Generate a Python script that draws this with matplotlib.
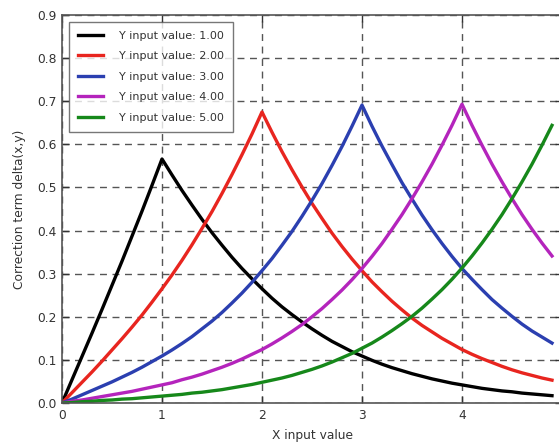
#!/usr/bin/env python3
import numpy as np
import matplotlib
matplotlib.use("Agg")
import matplotlib.pyplot as plt

#####################################################################################################
# data (x step 0.1 from 0 to 4.9)

x_values = [round(0.1 * i, 1) for i in range(50)]

y_inputs = [1.00, 2.00, 3.00, 4.00, 5.00]

delta_y1 = [0.000, 0.054, 0.108, 0.162, 0.217, 0.273, 0.329, 0.387, 0.445, 0.505,
            0.566, 0.529, 0.493, 0.459, 0.426, 0.395, 0.366, 0.338, 0.312, 0.288,
            0.265, 0.243, 0.223, 0.205, 0.188, 0.172, 0.157, 0.143, 0.131, 0.119,
            0.109, 0.099, 0.090, 0.082, 0.075, 0.068, 0.062, 0.056, 0.051, 0.046,
            0.042, 0.038, 0.034, 0.031, 0.028, 0.026, 0.023, 0.021, 0.019, 0.017]

delta_y2 = [0.000, 0.024, 0.048, 0.072, 0.097, 0.123, 0.149, 0.176, 0.204, 0.234,
            0.265, 0.297, 0.331, 0.367, 0.405, 0.444, 0.486, 0.530, 0.576, 0.624,
            0.675, 0.628, 0.583, 0.541, 0.501, 0.463, 0.428, 0.394, 0.363, 0.334,
            0.307, 0.281, 0.258, 0.236, 0.216, 0.197, 0.180, 0.165, 0.150, 0.137,
            0.124, 0.113, 0.103, 0.094, 0.085, 0.077, 0.070, 0.064, 0.058, 0.053]

delta_y3 = [0.000, 0.009, 0.019, 0.029, 0.039, 0.049, 0.060, 0.071, 0.083, 0.096,
            0.109, 0.123, 0.138, 0.154, 0.172, 0.190, 0.210, 0.232, 0.255, 0.280,
            0.307, 0.335, 0.366, 0.398, 0.433, 0.470, 0.509, 0.551, 0.595, 0.642,
            0.691, 0.642, 0.596, 0.553, 0.511, 0.473, 0.436, 0.402, 0.370, 0.340,
            0.312, 0.287, 0.263, 0.240, 0.220, 0.201, 0.183, 0.167, 0.153, 0.139]

delta_y4 = [0.000, 0.004, 0.007, 0.011, 0.015, 0.019, 0.023, 0.027, 0.032, 0.037,
            0.042, 0.047, 0.054, 0.060, 0.067, 0.075, 0.083, 0.092, 0.102, 0.113,
            0.124, 0.137, 0.151, 0.166, 0.182, 0.200, 0.219, 0.240, 0.262, 0.286,
            0.312, 0.340, 0.370, 0.403, 0.437, 0.474, 0.513, 0.554, 0.598, 0.644,
            0.693, 0.644, 0.598, 0.554, 0.513, 0.474, 0.437, 0.403, 0.371, 0.341]

delta_y5 = [0.000, 0.001, 0.003, 0.004, 0.006, 0.007, 0.009, 0.010, 0.012, 0.014,
            0.016, 0.018, 0.020, 0.023, 0.025, 0.028, 0.031, 0.035, 0.039, 0.043,
            0.048, 0.053, 0.058, 0.064, 0.071, 0.078, 0.086, 0.095, 0.105, 0.115,
            0.127, 0.139, 0.153, 0.168, 0.184, 0.201, 0.220, 0.241, 0.263, 0.287,
            0.313, 0.341, 0.371, 0.403, 0.437, 0.474, 0.513, 0.554, 0.598, 0.644]

series = [delta_y1, delta_y2, delta_y3, delta_y4, delta_y5]
colors = ["#000000", "#e8251f", "#2b3fb0", "#b424bc", "#16881a"]

x_ticks = [0, 1, 2, 3, 4]
y_ticks = [0.0, 0.1, 0.2, 0.3, 0.4, 0.5, 0.6, 0.7, 0.8, 0.9]

#####################################################################################################
fontsize = 8.8
plt.rcParams['font.family'] = ['DejaVu Sans']

fig = plt.figure(figsize=(5.59, 4.47), dpi=100)
# axes reaches a little past the right border (picture is cropped there)
ax = fig.add_axes([62 / 559, 44 / 447, 500 / 559, 388 / 447])

for yv, d, c in zip(y_inputs, series, colors):
	ax.plot(x_values, d, color=c, linewidth=2.4, label=f"Y input value: {yv:.2f}")

ax.set_xlim(0, 5)
ax.set_ylim(0, 0.9)
ax.set_xticks(x_ticks)
ax.set_yticks(y_ticks)
ax.set_yticklabels([f"{v:.1f}" for v in y_ticks])
ax.tick_params(direction='in', length=5, width=1, colors='#333333', labelcolor='#333333',
               labelsize=fontsize, top=True, right=True, pad=4)

ax.grid(True, color='#555555', linestyle=(0, (5, 4)), linewidth=1.0)
ax.set_axisbelow(True)
for sp in ax.spines.values():
	sp.set_color('#555555')
	sp.set_linewidth(1.2)

ax.set_xlabel("X input value", fontsize=fontsize, color='#333333', labelpad=5)
ax.set_ylabel("Correction term delta(x,y)", fontsize=fontsize, color='#333333', labelpad=8)

leg = ax.legend(loc='upper left', fontsize=8, frameon=True, fancybox=False,
                handlelength=2.3, handletextpad=1.4, borderpad=0.8, labelspacing=0.95,
                borderaxespad=0.6)
leg.get_frame().set_edgecolor('#555555')
leg.get_frame().set_linewidth(1.0)
for t in leg.get_texts():
	t.set_color('#333333')

fig.savefig("out.png", dpi=100)
